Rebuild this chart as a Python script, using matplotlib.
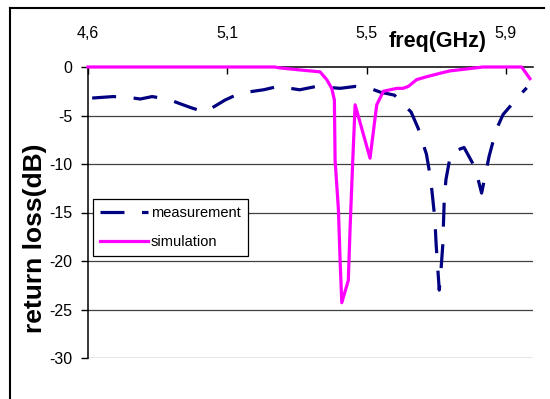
"""
plot.py - Return loss of the antenna: measurement vs. simulation.
"""

import matplotlib
matplotlib.use("Agg")
import matplotlib.pyplot as plt
from matplotlib.lines import Line2D

plt.rcParams["font.family"] = ["Liberation Sans", "DejaVu Sans"]

# ─────────────────────────────────────────────────────────────────────────────
# Data (x is the category-axis position: 0 -> "4,6", 1 -> "5,1", ...)
# ─────────────────────────────────────────────────────────────────────────────

tick_pos = [0, 1, 2, 3]
tick_labels = ["4,6", "5,1", "5,5", "5,9"]
y_ticks = [0, -5, -10, -15, -20, -25, -30]

meas_x = [0.03, 0.18, 0.30, 0.375, 0.46, 0.57, 0.74, 0.84, 0.985, 1.09,
          1.26, 1.365, 1.52, 1.64, 1.81, 1.92, 2.025, 2.10, 2.20, 2.32,
          2.37, 2.43, 2.46, 2.49, 2.50, 2.522, 2.536, 2.547, 2.558, 2.57,
          2.606, 2.70, 2.78, 2.826, 2.88, 2.93, 2.98, 3.106, 3.15]
meas_y = [-3.2, -3.05, -3.15, -3.3, -3.05, -3.3, -4.2, -4.65, -3.4, -2.7,
          -2.35, -2.0, -2.35, -2.0, -2.2, -2.0, -2.2, -2.6, -2.9, -4.65,
          -6.3, -9.0, -11.5, -15.6, -18.4, -23.0, -20.6, -18.4, -13.6, -11.6,
          -8.8, -8.3, -10.4, -13.0, -9.2, -6.5, -4.9, -2.8, -2.15]

sim_x = [0.0, 1.34, 1.38, 1.52, 1.666, 1.714, 1.75, 1.769, 1.774, 1.798,
         1.81, 1.822, 1.869, 1.882, 1.901, 1.918, 2.025, 2.073, 2.121, 2.217,
         2.262, 2.30, 2.36, 2.432, 2.527, 2.60, 2.72, 2.836, 3.113, 3.173]
sim_y = [0.0, 0.0, -0.1, -0.3, -0.5, -1.3, -2.2, -3.4, -9.6, -14.7,
         -19.9, -24.3, -22.0, -16.5, -9.6, -3.9, -9.4, -3.9, -2.5, -2.2,
         -2.2, -2.0, -1.3, -1.0, -0.65, -0.4, -0.2, 0.0, 0.0, -1.2]

# ─────────────────────────────────────────────────────────────────────────────
# Figure
# ─────────────────────────────────────────────────────────────────────────────

W, H = 550, 399
fig = plt.figure(figsize=(W / 100, H / 100), dpi=100)
ax = fig.add_axes([88 / W, 1 - 358 / H, (533 - 88) / W, (358 - 67) / H])

ax.plot(meas_x, meas_y, color="#000080", lw=2.3, dashes=(7.5, 5.5),
        dash_capstyle="butt", label="measurement", zorder=4)
ax.plot(sim_x, sim_y, color="#FF00FF", lw=2.3, label="simulation",
        zorder=5, clip_on=False)

ax.set_xlim(0, 3.195)
ax.set_ylim(-30, 0)

# horizontal gridlines
for v in y_ticks[1:]:
    ax.axhline(v, color="#404040", lw=0.9, zorder=1)

# axes: x axis on top (at 0 dB), y axis on the left
for side in ("bottom", "right"):
    ax.spines[side].set_visible(False)
ax.spines["top"].set_linewidth(1.1)
ax.spines["left"].set_linewidth(1.1)

ax.xaxis.tick_top()
ax.set_xticks(tick_pos)
ax.set_xticklabels(tick_labels)
ax.tick_params(axis="x", direction="in", length=5, width=1, pad=19,
               labelsize=11.5)
ax.set_yticks(y_ticks)
ax.set_yticklabels([str(v) for v in y_ticks])
ax.tick_params(axis="y", direction="out", length=5, width=1, pad=6,
               labelsize=11.5)

leg = ax.legend(loc="upper left", bbox_to_anchor=(93 / W, 1 - 199 / H),
                bbox_transform=fig.transFigure, borderaxespad=0,
                fontsize=10.5, handlelength=3.3, handletextpad=0.15,
                labelspacing=1.0, borderpad=0.5, fancybox=False,
                framealpha=1, edgecolor="black")
leg.get_frame().set_linewidth(0.9)

fig.text(438 / W, 1 - 42 / H, "freq(GHz)", fontsize=15.5,
         fontweight="bold", ha="center", va="center")
fig.text(35 / W, 1 - 238 / H, "return loss(dB)", fontsize=19,
         fontweight="bold", rotation=90, ha="center", va="center")

# outer chart frame (top and left edges are visible)
fig.add_artist(Line2D([10 / W, 544 / W], [1 - 8 / H, 1 - 8 / H],
                      transform=fig.transFigure, color="black", lw=1.5))
fig.add_artist(Line2D([10 / W, 10 / W], [1 - 8 / H, 0],
                      transform=fig.transFigure, color="black", lw=1.5))

fig.savefig("out.png", dpi=100)
plt.close(fig)
